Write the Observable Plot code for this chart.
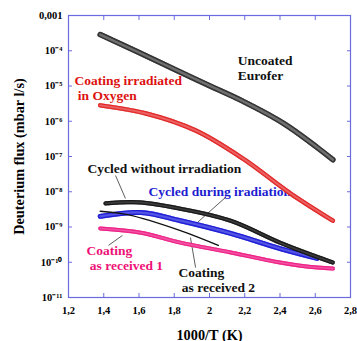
<!DOCTYPE html>
<html><head><meta charset="utf-8">
<script src="https://cdn.jsdelivr.net/npm/d3@7"></script>
<script src="https://cdn.jsdelivr.net/npm/@observablehq/plot@0.6"></script>
<style>
body{margin:0;background:#fff}
svg, svg text{font-family:"Liberation Serif","Times New Roman",serif !important;font-weight:bold}
</style>
</head><body><div id="chart"></div>
<script>
const xTicks = [1.2, 1.4, 1.6, 1.8, 2.0, 2.2, 2.4, 2.6, 2.8];
const yTicks = [1e-11, 1e-10, 1e-9, 1e-8, 1e-7, 1e-6, 1e-5, 1e-4, 1e-3];

const uncoatedX = [1.38, 1.6, 1.8, 2.0, 2.18, 2.42, 2.61, 2.70];
const uncoatedY = [2.88e-4, 8.9e-5, 3.0e-5, 1.02e-5, 3.9e-6, 8.7e-7, 1.82e-7, 8.1e-8];

const oxygenX = [1.38, 1.64, 1.92, 2.19, 2.46, 2.70];
const oxygenY = [2.82e-6, 1.66e-6, 5.5e-7, 8.7e-8, 8.9e-9, 1.51e-9];

const cycledNoIrrX = [1.41, 1.6, 1.835, 2.12, 2.40, 2.59, 2.70];
const cycledNoIrrY = [4.7e-9, 5.0e-9, 3.3e-9, 1.5e-9, 3.6e-10, 1.55e-10, 9.8e-11];

const cycledIrrX = [1.38, 1.61, 1.835, 2.12, 2.40, 2.61];
const cycledIrrY = [2.0e-9, 2.57e-9, 1.51e-9, 6.6e-10, 2.45e-10, 1.29e-10];

const received2X = [1.38, 1.535, 1.835, 2.05];
const received2Y = [2.8e-9, 2.24e-9, 7.9e-10, 3.0e-10];

const received1X = [1.38, 1.61, 1.835, 2.12, 2.40, 2.55, 2.70];
const received1Y = [9.1e-10, 6.9e-10, 3.6e-10, 1.9e-10, 9.8e-11, 7.6e-11, 6.6e-11];

const seriesNames = ["Uncoated\nEurofer", "Coating irradiated\n in Oxygen", "Cycled without irradiation",
  "Cycled during iradiation", "Coating\n as received 1", "Coating\n as received 2"];

const table = (xs, ys) => xs.map((x, i) => ({x, y: ys[i]}));
const sup = {"-": "\u207B", "0": "\u2070", "1": "\u00B9", "2": "\u00B2", "3": "\u00B3", "4": "\u2074",
  "5": "\u2075", "6": "\u2076", "7": "\u2077", "8": "\u2078", "9": "\u2079"};
const yFmt = d => d >= 1e-3 ? "0,001" : "10" + String(Math.round(Math.log10(d))).split("").map(c => sup[c]).join("");
const xFmt = d => String(+d.toFixed(1)).replace(".", ",");

const blue = "#6b6be0";
const font = "Liberation Serif";

// a band of densely packed hollow markers: coloured outline, light core, cross-hatching
function band(data, color, light, w, core, dash, op) {
  const o = {x: "x", y: "y", curve: "catmull-rom"};
  return [
    Plot.line(data, {...o, stroke: color, strokeWidth: w}),
    Plot.line(data, {...o, stroke: light, strokeWidth: core}),
    Plot.line(data, {...o, stroke: color, strokeWidth: w, strokeDasharray: dash, strokeOpacity: op})
  ];
}

const ann = (x, y, text, fill) => Plot.text([text], {x: () => x, y: () => y, text: d => d, fill,
  textAnchor: "start", lineAnchor: "middle", fontSize: 13.5, fontWeight: "bold", fontFamily: font, lineHeight: 1.1});
const lead = (x1, y1, x2, y2) => Plot.link([0], {x1: () => x1, y1: () => y1, x2: () => x2, y2: () => y2, stroke: "#333", strokeWidth: 0.8});

const chart = Plot.plot({
  width: 357, height: 341,
  marginLeft: 68, marginRight: 7, marginTop: 15, marginBottom: 44,
  style: {fontFamily: font, fontWeight: "bold", background: "white", color: "black"},
  x: {domain: [1.2, 2.8]},
  y: {type: "log", domain: [1e-11, 1e-3]},
  marks: [
    ann(1.234, 10 ** -5.06, seriesNames[1], "#dd1111"),
    ann(2.16, 10 ** -4.49, seriesNames[0], "#111"),
    ann(1.308, 10 ** -7.34, seriesNames[2], "#111"),
    ann(1.654, 10 ** -7.99, seriesNames[3], "#1c1cd0"),
    ann(1.302, 10 ** -9.87, seriesNames[4], "#ee1177"),
    ann(1.824, 10 ** -10.5, seriesNames[5], "#111"),
    lead(1.467, 10 ** -7.54, 1.523, 10 ** -8.19),
    lead(2.091, 10 ** -8.16, 1.932, 10 ** -8.87),
    lead(1.427, 10 ** -9.52, 1.506, 10 ** -9.24),
    lead(1.921, 10 ** -10.15, 1.892, 10 ** -9.3),
    ...band(table(uncoatedX, uncoatedY), "#333", "#c8c8c8", 5.5, 2.4, "0.8 1.6", 0.6),
    ...band(table(oxygenX, oxygenY), "#e22a2a", "#f7b4b4", 4.5, 2, "0.8 1.4", 0.6),
    ...band(table(received1X, received1Y), "#ee2288", "#fbc0dc", 4, 1.6, "1 1.2", 0.7),
    ...band(table(cycledIrrX, cycledIrrY), "#2020d8", "#a0a0f4", 5, 2.2, "0.8 1.4", 0.6),
    ...band(table(cycledNoIrrX, cycledNoIrrY), "#1a1a1a", "#8a8a8a", 4.2, 1.6, "1 1", 0.7),
    Plot.line(table(received2X, received2Y), {x: "x", y: "y", stroke: "#111", strokeWidth: 1.4, curve: "catmull-rom"}),
    Plot.frame({stroke: blue, strokeWidth: 1.2}),
    Plot.axisX(xTicks, {anchor: "bottom", tickSize: -4, tickPadding: 13, stroke: blue, fill: "black",
      tickFormat: xFmt, fontSize: 10.5, fontWeight: "bold", label: "1000/T (K)", labelAnchor: "center", labelArrow: "none", labelOffset: 42}),
    Plot.axisX(xTicks, {anchor: "top", tickSize: -4, stroke: blue, text: null, label: null}),
    Plot.axisY(yTicks, {anchor: "left", tickSize: -4, tickPadding: 10, stroke: blue, fill: "black",
      tickFormat: yFmt, fontSize: 10.5, fontWeight: "bold", label: "Deuterium flux (mbar l/s)", labelAnchor: "center", labelArrow: "none", labelOffset: 55}),
    Plot.axisY(yTicks, {anchor: "right", tickSize: -4, stroke: blue, text: null, label: null})
  ]
});
document.getElementById("chart").append(chart);
chart.querySelectorAll("[aria-label='x-axis label'] text, [aria-label='y-axis label'] text").forEach(t => t.setAttribute("font-size", "14.3"));
</script>
</body></html>
